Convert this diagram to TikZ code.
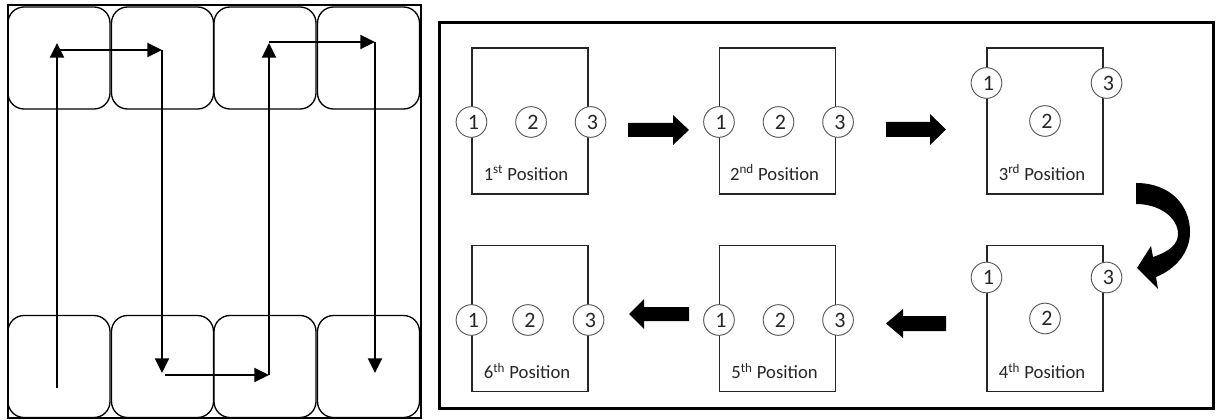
\documentclass[tikz,border=0pt]{standalone}
\usepackage{fontspec}
\setmainfont{Carlito}
\usetikzlibrary{arrows.meta,calc}
\newcommand\pinnum[1]{\hspace{3pt}\raisebox{-1.5pt}{#1}}
\begin{document}
\begin{tikzpicture}[x=0.75pt,y=-0.75pt,
  cell/.style={draw=black, line width=1pt, rounded corners=12pt, minimum width=76.5pt, minimum height=76.5pt, inner sep=0pt},
  flow/.style={line width=1.6pt, -{Triangle[length=11pt,width=10.5pt]}},
  posbox/.style={draw=black!85, line width=0.8pt, minimum width=87pt, minimum height=109.5pt, inner sep=0pt},
  pin/.style={circle, draw=black!65, fill=white, line width=0.7pt, minimum size=23pt, inner sep=0pt, font=\fontsize{16.5}{18}\selectfont, text=black!85},
  lbl/.style={font=\fontsize{14}{16}\selectfont, text=black!85, inner sep=0pt},
  blk/.style={fill=black}]
\useasboundingbox (0,0) rectangle (1216,420);

% ---------------- left panel ----------------
\draw[line width=1.2pt] (8,5) rectangle (421,418);
\node[cell] (t1) at (59,58) {};
\node[cell] (t2) at (162.5,58) {};
\node[cell] (t3) at (265,58) {};
\node[cell] (t4) at (368.5,58) {};
\node[cell] (b1) at (59,366.5) {};
\node[cell] (b2) at (162.5,366.5) {};
\node[cell] (b3) at (265,366.5) {};
\node[cell] (b4) at (368.5,366.5) {};

\coordinate (a0) at (57,388);
\coordinate (a1) at (57,43);
\coordinate (h0) at (60,50);
\coordinate (h1) at (162,50);
\coordinate (v1) at (162,373);
\coordinate (h2) at (165,375);
\coordinate (h3) at (269,375);
\coordinate (v3) at (269,43);
\coordinate (h4) at (269,42);
\coordinate (h5) at (375,42);
\coordinate (v5) at (375,373);
\draw[flow] (a0) -- (a1);
\draw[flow] (h0) -- (h1);
\draw[flow] (h1) -- (v1);
\draw[flow] (h2) -- (h3);
\draw[flow] (h3) -- (v3);
\draw[flow] (h4) -- (h5);
\draw[flow] (h5) -- (v5);

% ---------------- right panel ----------------
\draw[line width=2.3pt] (439.5,22.5) rectangle (1213.5,408.5);

\node[posbox] (p1) at (530,121) {};
\node[posbox] (p2) at (777.5,121) {};
\node[posbox] (p3) at (1045,121) {};
\node[posbox] (p4) at (1045,318.5) {};
\node[posbox] (p5) at (777.5,318.5) {};
\node[posbox] (p6) at (530,318.5) {};

% position 1
\node[pin] (p1a) at ($(p1.west)+(0,1)$) {\pinnum{1}};
\node[pin] (p1b) at ($(p1.center)+(1,1)$) {\pinnum{2}};
\node[pin] (p1c) at ($(p1.east)+(2,1)$) {\pinnum{3}};
\node[lbl] at ($(p1.south)+(-4,-22)$) {1\textsuperscript{st} Position};
% position 2
\node[pin] (p2a) at ($(p2.west)+(0,1)$) {\pinnum{1}};
\node[pin] (p2b) at ($(p2.center)+(1,1)$) {\pinnum{2}};
\node[pin] (p2c) at ($(p2.east)+(2,1)$) {\pinnum{3}};
\node[lbl] at ($(p2.south)+(-3,-22)$) {2\textsuperscript{nd} Position};
% position 3
\node[pin] (p3a) at ($(p3.west)+(0,-38)$) {\pinnum{1}};
\node[pin] (p3b) at ($(p3.center)+(0,0)$) {\pinnum{2}};
\node[pin] (p3c) at ($(p3.east)+(3,-38)$) {\pinnum{3}};
\node[lbl] at ($(p3.south)+(-3,-22)$) {3\textsuperscript{rd} Position};
% position 4
\node[pin] (p4a) at ($(p4.west)+(0,-41)$) {\pinnum{1}};
\node[pin] (p4b) at ($(p4.center)+(0,0)$) {\pinnum{2}};
\node[pin] (p4c) at ($(p4.east)+(3,-41)$) {\pinnum{3}};
\node[lbl] at ($(p4.south)+(-3,-21)$) {4\textsuperscript{th} Position};
% position 5
\node[pin] (p5a) at ($(p5.west)+(0,1.5)$) {\pinnum{1}};
\node[pin] (p5b) at ($(p5.center)+(1,1.5)$) {\pinnum{2}};
\node[pin] (p5c) at ($(p5.east)+(2,1.5)$) {\pinnum{3}};
\node[lbl] at ($(p5.south)+(-3,-21)$) {5\textsuperscript{th} Position};
% position 6
\node[pin] (p6a) at ($(p6.west)+(0,1.5)$) {\pinnum{1}};
\node[pin] (p6b) at ($(p6.center)+(-2,1.5)$) {\pinnum{2}};
\node[pin] (p6c) at ($(p6.east)+(0,1.5)$) {\pinnum{3}};
\node[lbl] at ($(p6.south)+(-3,-21)$) {6\textsuperscript{th} Position};

% block arrows
\fill[blk] (628,123) -- (673,123) -- (673,115) -- (689,130) -- (673,145) -- (673,137) -- (628,137) -- cycle;
\fill[blk] (886,122) -- (930,122) -- (930,114) -- (946,129.5) -- (930,145) -- (930,137) -- (886,137) -- cycle;
\fill[blk] (946,316) -- (903,316) -- (903,309) -- (886,323.5) -- (903,338) -- (903,331) -- (946,331) -- cycle;
\fill[blk] (689,307) -- (644,307) -- (644,299) -- (629,314) -- (644,329) -- (644,321) -- (689,321) -- cycle;

% curved arrow
\fill[blk] (1136,183) .. controls (1170,183) and (1190,205) .. (1190,232)
  .. controls (1190,252) and (1176,269) .. (1156,277)
  -- (1158,289) -- (1137,268) -- (1151,246) -- (1153,257)
  .. controls (1168,252) and (1178,245) .. (1178,234)
  .. controls (1178,218) and (1160,204) .. (1136,204) -- cycle;
\end{tikzpicture}
\end{document}
